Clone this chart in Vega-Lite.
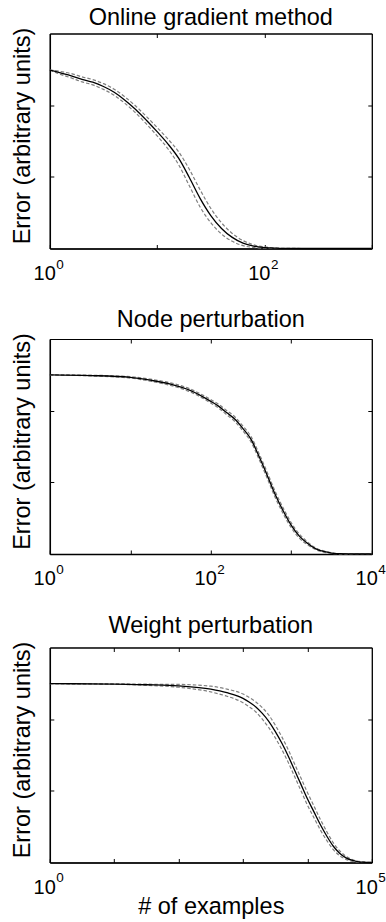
{
  "$schema": "https://vega.github.io/schema/vega-lite/v6.json",
  "background": "white",
  "padding": {"left": 9.8, "top": 5.5, "right": 0, "bottom": 0},
  "spacing": 22.5,
  "datasets": {
    "p1": [
      {"x": 1, "s": "mean", "v": 2.49}, {"x": 1, "s": "upper", "v": 2.49}, {"x": 1, "s": "lower", "v": 2.49},
      {"x": 1.259, "s": "mean", "v": 2.45}, {"x": 1.259, "s": "upper", "v": 2.47}, {"x": 1.259, "s": "lower", "v": 2.43},
      {"x": 1.585, "s": "mean", "v": 2.41}, {"x": 1.585, "s": "upper", "v": 2.44}, {"x": 1.585, "s": "lower", "v": 2.38},
      {"x": 1.995, "s": "mean", "v": 2.36}, {"x": 1.995, "s": "upper", "v": 2.395}, {"x": 1.995, "s": "lower", "v": 2.325},
      {"x": 2.512, "s": "mean", "v": 2.32}, {"x": 2.512, "s": "upper", "v": 2.357}, {"x": 2.512, "s": "lower", "v": 2.283},
      {"x": 3.162, "s": "mean", "v": 2.26}, {"x": 3.162, "s": "upper", "v": 2.30}, {"x": 3.162, "s": "lower", "v": 2.22},
      {"x": 3.981, "s": "mean", "v": 2.18}, {"x": 3.981, "s": "upper", "v": 2.222}, {"x": 3.981, "s": "lower", "v": 2.138},
      {"x": 5.012, "s": "mean", "v": 2.07}, {"x": 5.012, "s": "upper", "v": 2.115}, {"x": 5.012, "s": "lower", "v": 2.025},
      {"x": 6.31, "s": "mean", "v": 1.94}, {"x": 6.31, "s": "upper", "v": 1.988}, {"x": 6.31, "s": "lower", "v": 1.892},
      {"x": 7.943, "s": "mean", "v": 1.79}, {"x": 7.943, "s": "upper", "v": 1.842}, {"x": 7.943, "s": "lower", "v": 1.738},
      {"x": 10, "s": "mean", "v": 1.63}, {"x": 10, "s": "upper", "v": 1.688}, {"x": 10, "s": "lower", "v": 1.572},
      {"x": 12.59, "s": "mean", "v": 1.46}, {"x": 12.59, "s": "upper", "v": 1.528}, {"x": 12.59, "s": "lower", "v": 1.392},
      {"x": 15.85, "s": "mean", "v": 1.26}, {"x": 15.85, "s": "upper", "v": 1.35}, {"x": 15.85, "s": "lower", "v": 1.17},
      {"x": 19.95, "s": "mean", "v": 0.99}, {"x": 19.95, "s": "upper", "v": 1.105}, {"x": 19.95, "s": "lower", "v": 0.875},
      {"x": 25.12, "s": "mean", "v": 0.70}, {"x": 25.12, "s": "upper", "v": 0.82}, {"x": 25.12, "s": "lower", "v": 0.58},
      {"x": 31.62, "s": "mean", "v": 0.46}, {"x": 31.62, "s": "upper", "v": 0.56}, {"x": 31.62, "s": "lower", "v": 0.36},
      {"x": 39.81, "s": "mean", "v": 0.28}, {"x": 39.81, "s": "upper", "v": 0.358}, {"x": 39.81, "s": "lower", "v": 0.202},
      {"x": 50.12, "s": "mean", "v": 0.155}, {"x": 50.12, "s": "upper", "v": 0.21}, {"x": 50.12, "s": "lower", "v": 0.10},
      {"x": 63.1, "s": "mean", "v": 0.075}, {"x": 63.1, "s": "upper", "v": 0.11}, {"x": 63.1, "s": "lower", "v": 0.04},
      {"x": 79.43, "s": "mean", "v": 0.033}, {"x": 79.43, "s": "upper", "v": 0.051}, {"x": 79.43, "s": "lower", "v": 0.015},
      {"x": 100, "s": "mean", "v": 0.013}, {"x": 100, "s": "upper", "v": 0.022}, {"x": 100, "s": "lower", "v": 0.004},
      {"x": 125.9, "s": "mean", "v": 0.004}, {"x": 125.9, "s": "upper", "v": 0.008}, {"x": 125.9, "s": "lower", "v": 0},
      {"x": 158.5, "s": "mean", "v": 0.001}, {"x": 158.5, "s": "upper", "v": 0.002}, {"x": 158.5, "s": "lower", "v": 0},
      {"x": 251.2, "s": "mean", "v": 0}, {"x": 251.2, "s": "upper", "v": 0}, {"x": 251.2, "s": "lower", "v": 0},
      {"x": 1000, "s": "mean", "v": 0}, {"x": 1000, "s": "upper", "v": 0}, {"x": 1000, "s": "lower", "v": 0}
    ],
    "p2": [
      {"x": 1, "s": "mean", "v": 2.50}, {"x": 1, "s": "upper", "v": 2.50}, {"x": 1, "s": "lower", "v": 2.50},
      {"x": 3.162, "s": "mean", "v": 2.49}, {"x": 3.162, "s": "upper", "v": 2.495}, {"x": 3.162, "s": "lower", "v": 2.485},
      {"x": 10, "s": "mean", "v": 2.465}, {"x": 10, "s": "upper", "v": 2.475}, {"x": 10, "s": "lower", "v": 2.455},
      {"x": 17.78, "s": "mean", "v": 2.425}, {"x": 17.78, "s": "upper", "v": 2.439}, {"x": 17.78, "s": "lower", "v": 2.411},
      {"x": 31.62, "s": "mean", "v": 2.37}, {"x": 31.62, "s": "upper", "v": 2.388}, {"x": 31.62, "s": "lower", "v": 2.352},
      {"x": 56.23, "s": "mean", "v": 2.28}, {"x": 56.23, "s": "upper", "v": 2.30}, {"x": 56.23, "s": "lower", "v": 2.26},
      {"x": 100, "s": "mean", "v": 2.13}, {"x": 100, "s": "upper", "v": 2.154}, {"x": 100, "s": "lower", "v": 2.106},
      {"x": 125.9, "s": "mean", "v": 2.06}, {"x": 125.9, "s": "upper", "v": 2.087}, {"x": 125.9, "s": "lower", "v": 2.033},
      {"x": 158.5, "s": "mean", "v": 1.97}, {"x": 158.5, "s": "upper", "v": 2.00}, {"x": 158.5, "s": "lower", "v": 1.94},
      {"x": 199.5, "s": "mean", "v": 1.88}, {"x": 199.5, "s": "upper", "v": 1.912}, {"x": 199.5, "s": "lower", "v": 1.848},
      {"x": 251.2, "s": "mean", "v": 1.75}, {"x": 251.2, "s": "upper", "v": 1.785}, {"x": 251.2, "s": "lower", "v": 1.715},
      {"x": 316.2, "s": "mean", "v": 1.60}, {"x": 316.2, "s": "upper", "v": 1.638}, {"x": 316.2, "s": "lower", "v": 1.562},
      {"x": 398.1, "s": "mean", "v": 1.36}, {"x": 398.1, "s": "upper", "v": 1.40}, {"x": 398.1, "s": "lower", "v": 1.32},
      {"x": 501.2, "s": "mean", "v": 1.10}, {"x": 501.2, "s": "upper", "v": 1.142}, {"x": 501.2, "s": "lower", "v": 1.058},
      {"x": 631, "s": "mean", "v": 0.83}, {"x": 631, "s": "upper", "v": 0.872}, {"x": 631, "s": "lower", "v": 0.788},
      {"x": 794.3, "s": "mean", "v": 0.60}, {"x": 794.3, "s": "upper", "v": 0.64}, {"x": 794.3, "s": "lower", "v": 0.56},
      {"x": 1000, "s": "mean", "v": 0.40}, {"x": 1000, "s": "upper", "v": 0.435}, {"x": 1000, "s": "lower", "v": 0.365},
      {"x": 1259, "s": "mean", "v": 0.25}, {"x": 1259, "s": "upper", "v": 0.278}, {"x": 1259, "s": "lower", "v": 0.222},
      {"x": 1585, "s": "mean", "v": 0.15}, {"x": 1585, "s": "upper", "v": 0.17}, {"x": 1585, "s": "lower", "v": 0.13},
      {"x": 1995, "s": "mean", "v": 0.075}, {"x": 1995, "s": "upper", "v": 0.088}, {"x": 1995, "s": "lower", "v": 0.062},
      {"x": 2512, "s": "mean", "v": 0.035}, {"x": 2512, "s": "upper", "v": 0.043}, {"x": 2512, "s": "lower", "v": 0.027},
      {"x": 3162, "s": "mean", "v": 0.013}, {"x": 3162, "s": "upper", "v": 0.017}, {"x": 3162, "s": "lower", "v": 0.009},
      {"x": 3981, "s": "mean", "v": 0.004}, {"x": 3981, "s": "upper", "v": 0.006}, {"x": 3981, "s": "lower", "v": 0.002},
      {"x": 6310, "s": "mean", "v": 0}, {"x": 6310, "s": "upper", "v": 0}, {"x": 6310, "s": "lower", "v": 0},
      {"x": 10000, "s": "mean", "v": 0}, {"x": 10000, "s": "upper", "v": 0}, {"x": 10000, "s": "lower", "v": 0}
    ],
    "p3": [
      {"x": 1, "s": "mean", "v": 2.495}, {"x": 1, "s": "upper", "v": 2.495}, {"x": 1, "s": "lower", "v": 2.495},
      {"x": 10, "s": "mean", "v": 2.49}, {"x": 10, "s": "upper", "v": 2.493}, {"x": 10, "s": "lower", "v": 2.487},
      {"x": 31.62, "s": "mean", "v": 2.48}, {"x": 31.62, "s": "upper", "v": 2.488}, {"x": 31.62, "s": "lower", "v": 2.472},
      {"x": 100, "s": "mean", "v": 2.465}, {"x": 100, "s": "upper", "v": 2.485}, {"x": 100, "s": "lower", "v": 2.445},
      {"x": 316.2, "s": "mean", "v": 2.42}, {"x": 316.2, "s": "upper", "v": 2.46}, {"x": 316.2, "s": "lower", "v": 2.38},
      {"x": 562.3, "s": "mean", "v": 2.37}, {"x": 562.3, "s": "upper", "v": 2.42}, {"x": 562.3, "s": "lower", "v": 2.32},
      {"x": 1000, "s": "mean", "v": 2.29}, {"x": 1000, "s": "upper", "v": 2.35}, {"x": 1000, "s": "lower", "v": 2.23},
      {"x": 1259, "s": "mean", "v": 2.235}, {"x": 1259, "s": "upper", "v": 2.30}, {"x": 1259, "s": "lower", "v": 2.17},
      {"x": 1585, "s": "mean", "v": 2.17}, {"x": 1585, "s": "upper", "v": 2.24}, {"x": 1585, "s": "lower", "v": 2.10},
      {"x": 1995, "s": "mean", "v": 2.08}, {"x": 1995, "s": "upper", "v": 2.16}, {"x": 1995, "s": "lower", "v": 2.00},
      {"x": 2512, "s": "mean", "v": 1.97}, {"x": 2512, "s": "upper", "v": 2.058}, {"x": 2512, "s": "lower", "v": 1.882},
      {"x": 3162, "s": "mean", "v": 1.83}, {"x": 3162, "s": "upper", "v": 1.918}, {"x": 3162, "s": "lower", "v": 1.742},
      {"x": 3981, "s": "mean", "v": 1.67}, {"x": 3981, "s": "upper", "v": 1.758}, {"x": 3981, "s": "lower", "v": 1.582},
      {"x": 5012, "s": "mean", "v": 1.49}, {"x": 5012, "s": "upper", "v": 1.578}, {"x": 5012, "s": "lower", "v": 1.402},
      {"x": 6310, "s": "mean", "v": 1.29}, {"x": 6310, "s": "upper", "v": 1.378}, {"x": 6310, "s": "lower", "v": 1.202},
      {"x": 7943, "s": "mean", "v": 1.09}, {"x": 7943, "s": "upper", "v": 1.178}, {"x": 7943, "s": "lower", "v": 1.002},
      {"x": 10000, "s": "mean", "v": 0.89}, {"x": 10000, "s": "upper", "v": 0.978}, {"x": 10000, "s": "lower", "v": 0.802},
      {"x": 12589, "s": "mean", "v": 0.71}, {"x": 12589, "s": "upper", "v": 0.792}, {"x": 12589, "s": "lower", "v": 0.628},
      {"x": 15849, "s": "mean", "v": 0.53}, {"x": 15849, "s": "upper", "v": 0.604}, {"x": 15849, "s": "lower", "v": 0.456},
      {"x": 19953, "s": "mean", "v": 0.37}, {"x": 19953, "s": "upper", "v": 0.432}, {"x": 19953, "s": "lower", "v": 0.308},
      {"x": 25119, "s": "mean", "v": 0.23}, {"x": 25119, "s": "upper", "v": 0.278}, {"x": 25119, "s": "lower", "v": 0.182},
      {"x": 31623, "s": "mean", "v": 0.13}, {"x": 31623, "s": "upper", "v": 0.164}, {"x": 31623, "s": "lower", "v": 0.096},
      {"x": 39811, "s": "mean", "v": 0.065}, {"x": 39811, "s": "upper", "v": 0.086}, {"x": 39811, "s": "lower", "v": 0.044},
      {"x": 50119, "s": "mean", "v": 0.028}, {"x": 50119, "s": "upper", "v": 0.04}, {"x": 50119, "s": "lower", "v": 0.016},
      {"x": 63096, "s": "mean", "v": 0.01}, {"x": 63096, "s": "upper", "v": 0.015}, {"x": 63096, "s": "lower", "v": 0.005},
      {"x": 79433, "s": "mean", "v": 0.003}, {"x": 79433, "s": "upper", "v": 0.005}, {"x": 79433, "s": "lower", "v": 0.001},
      {"x": 100000, "s": "mean", "v": 0}, {"x": 100000, "s": "upper", "v": 0}, {"x": 100000, "s": "lower", "v": 0}
    ],
    "e1": [{"x": 1, "e": "0"}, {"x": 100, "e": "2"}],
    "e2": [{"x": 1, "e": "0"}, {"x": 100, "e": "2"}, {"x": 10000, "e": "4"}],
    "e3": [{"x": 1, "e": "0"}, {"x": 100000, "e": "5"}]
  },
  "vconcat": [
    {
      "title": {"text": "Online gradient method", "offset": -2.6},
      "width": 322, "height": 215,
      "data": {"name": "p1"},
      "layer": [
        {
          "transform": [{"filter": "datum.s != 'mean'"}],
          "mark": {"type": "line", "color": "#808080", "strokeWidth": 1.2, "strokeDash": [3.5, 2], "interpolate": "monotone"},
          "encoding": {
            "x": {"field": "x", "type": "quantitative", "scale": {"type": "log", "domain": [1, 1000], "nice": false}, "axis": null},
            "y": {"field": "v", "type": "quantitative", "scale": {"domain": [0, 3], "nice": false, "zero": false}, "axis": null},
            "detail": {"field": "s"}
          }
        },
        {
          "transform": [{"filter": "datum.s == 'mean'"}],
          "mark": {"type": "line", "color": "black", "strokeWidth": 1.3, "interpolate": "monotone"},
          "encoding": {
            "x": {"field": "x", "type": "quantitative", "scale": {"type": "log", "domain": [1, 1000], "nice": false},
                  "axis": {"orient": "bottom", "values": [1, 10, 100, 1000], "title": null, "domainWidth": 1.5,
                           "labelExpr": "datum.value == 1 || datum.value == 100 ? '10' : ''"}},
            "y": {"field": "v", "type": "quantitative", "scale": {"domain": [0, 3], "nice": false, "zero": false},
                  "axis": {"orient": "left", "values": [1, 2], "labels": false, "title": "Error (arbitrary units)", "domainWidth": 1.5, "titlePadding": 15, "titleY": 102}}
          }
        },
        {
          "data": {"name": "e1"},
          "mark": {"type": "text", "align": "left", "baseline": "alphabetic", "dx": 6.5, "dy": 20, "fontSize": 13.5, "color": "black"},
          "encoding": {
            "x": {"field": "x", "type": "quantitative", "scale": {"type": "log", "domain": [1, 1000], "nice": false}, "axis": null},
            "y": {"datum": 0, "type": "quantitative", "scale": {"domain": [0, 3], "nice": false, "zero": false}, "axis": null},
            "text": {"field": "e"}
          }
        },
        {
          "transform": [{"filter": "datum.s == 'mean'"}],
          "mark": {"type": "line", "opacity": 0},
          "encoding": {
            "x": {"field": "x", "type": "quantitative", "scale": {"type": "log", "domain": [1, 1000], "nice": false},
                  "axis": {"orient": "top", "values": [10, 100], "labels": false, "title": null}},
            "y": {"field": "v", "type": "quantitative", "scale": {"domain": [0, 3], "nice": false, "zero": false},
                  "axis": {"orient": "right", "values": [1, 2], "labels": false, "title": null}}
          }
        }
      ],
      "resolve": {"axis": {"x": "independent", "y": "independent"}}
    },
    {
      "title": {"text": "Node perturbation", "offset": 1.1},
      "width": 322, "height": 215,
      "data": {"name": "p2"},
      "layer": [
        {
          "transform": [{"filter": "datum.s != 'mean'"}],
          "mark": {"type": "line", "color": "#808080", "strokeWidth": 1.2, "strokeDash": [3.5, 2], "interpolate": "monotone"},
          "encoding": {
            "x": {"field": "x", "type": "quantitative", "scale": {"type": "log", "domain": [1, 10000], "nice": false}, "axis": null},
            "y": {"field": "v", "type": "quantitative", "scale": {"domain": [0, 3], "nice": false, "zero": false}, "axis": null},
            "detail": {"field": "s"}
          }
        },
        {
          "transform": [{"filter": "datum.s == 'mean'"}],
          "mark": {"type": "line", "color": "black", "strokeWidth": 1.3, "interpolate": "monotone"},
          "encoding": {
            "x": {"field": "x", "type": "quantitative", "scale": {"type": "log", "domain": [1, 10000], "nice": false},
                  "axis": {"orient": "bottom", "values": [1, 10, 100, 1000, 10000], "title": null, "domainWidth": 1.5,
                           "labelExpr": "datum.value == 1 || datum.value == 100 || datum.value == 10000 ? '10' : ''"}},
            "y": {"field": "v", "type": "quantitative", "scale": {"domain": [0, 3], "nice": false, "zero": false},
                  "axis": {"orient": "left", "values": [1, 2], "labels": false, "title": "Error (arbitrary units)", "domainWidth": 1.5, "titlePadding": 15, "titleY": 102}}
          }
        },
        {
          "data": {"name": "e2"},
          "mark": {"type": "text", "align": "left", "baseline": "alphabetic", "dx": 6.5, "dy": 20, "fontSize": 13.5, "color": "black"},
          "encoding": {
            "x": {"field": "x", "type": "quantitative", "scale": {"type": "log", "domain": [1, 10000], "nice": false}, "axis": null},
            "y": {"datum": 0, "type": "quantitative", "scale": {"domain": [0, 3], "nice": false, "zero": false}, "axis": null},
            "text": {"field": "e"}
          }
        },
        {
          "transform": [{"filter": "datum.s == 'mean'"}],
          "mark": {"type": "line", "opacity": 0},
          "encoding": {
            "x": {"field": "x", "type": "quantitative", "scale": {"type": "log", "domain": [1, 10000], "nice": false},
                  "axis": {"orient": "top", "values": [10, 100, 1000], "labels": false, "title": null}},
            "y": {"field": "v", "type": "quantitative", "scale": {"domain": [0, 3], "nice": false, "zero": false},
                  "axis": {"orient": "right", "values": [1, 2], "labels": false, "title": null}}
          }
        }
      ],
      "resolve": {"axis": {"x": "independent", "y": "independent"}}
    },
    {
      "title": {"text": "Weight perturbation", "offset": 3.7},
      "width": 322, "height": 215,
      "data": {"name": "p3"},
      "layer": [
        {
          "transform": [{"filter": "datum.s != 'mean'"}],
          "mark": {"type": "line", "color": "#808080", "strokeWidth": 1.2, "strokeDash": [3.5, 2], "interpolate": "monotone"},
          "encoding": {
            "x": {"field": "x", "type": "quantitative", "scale": {"type": "log", "domain": [1, 100000], "nice": false}, "axis": null},
            "y": {"field": "v", "type": "quantitative", "scale": {"domain": [0, 3], "nice": false, "zero": false}, "axis": null},
            "detail": {"field": "s"}
          }
        },
        {
          "transform": [{"filter": "datum.s == 'mean'"}],
          "mark": {"type": "line", "color": "black", "strokeWidth": 1.3, "interpolate": "monotone"},
          "encoding": {
            "x": {"field": "x", "type": "quantitative", "scale": {"type": "log", "domain": [1, 100000], "nice": false},
                  "axis": {"orient": "bottom", "values": [1, 10, 100, 1000, 10000, 100000], "title": "# of examples", "domainWidth": 1.5, "titlePadding": -3,
                           "labelExpr": "datum.value == 1 || datum.value == 100000 ? '10' : ''"}},
            "y": {"field": "v", "type": "quantitative", "scale": {"domain": [0, 3], "nice": false, "zero": false},
                  "axis": {"orient": "left", "values": [1, 2], "labels": false, "title": "Error (arbitrary units)", "domainWidth": 1.5, "titlePadding": 15, "titleY": 102}}
          }
        },
        {
          "data": {"name": "e3"},
          "mark": {"type": "text", "align": "left", "baseline": "alphabetic", "dx": 6.5, "dy": 20, "fontSize": 13.5, "color": "black"},
          "encoding": {
            "x": {"field": "x", "type": "quantitative", "scale": {"type": "log", "domain": [1, 100000], "nice": false}, "axis": null},
            "y": {"datum": 0, "type": "quantitative", "scale": {"domain": [0, 3], "nice": false, "zero": false}, "axis": null},
            "text": {"field": "e"}
          }
        },
        {
          "transform": [{"filter": "datum.s == 'mean'"}],
          "mark": {"type": "line", "opacity": 0},
          "encoding": {
            "x": {"field": "x", "type": "quantitative", "scale": {"type": "log", "domain": [1, 100000], "nice": false},
                  "axis": {"orient": "top", "values": [10, 100, 1000, 10000], "labels": false, "title": null}},
            "y": {"field": "v", "type": "quantitative", "scale": {"domain": [0, 3], "nice": false, "zero": false},
                  "axis": {"orient": "right", "values": [1, 2], "labels": false, "title": null}}
          }
        }
      ],
      "resolve": {"axis": {"x": "independent", "y": "independent"}}
    }
  ],
  "config": {
    "font": "Liberation Sans",
    "view": {"stroke": "black", "strokeWidth": 1},
    "title": {"fontSize": 23.5, "fontWeight": "normal", "color": "black", "frame": "group", "anchor": "middle"},
    "text": {"font": "Liberation Sans"},
    "axis": {
      "grid": false, "domainColor": "black", "tickColor": "black", "labelColor": "black", "titleColor": "black",
      "labelFontSize": 20, "labelBaseline": "alphabetic", "labelAlign": "right", "labelOffset": 5.5,
      "titleFontSize": 23.5, "titleFontWeight": "normal", "tickSize": -4,
      "labelFlush": false, "labelOverlap": false, "labelPadding": 35, "tickWidth": 1
    }
  }
}
